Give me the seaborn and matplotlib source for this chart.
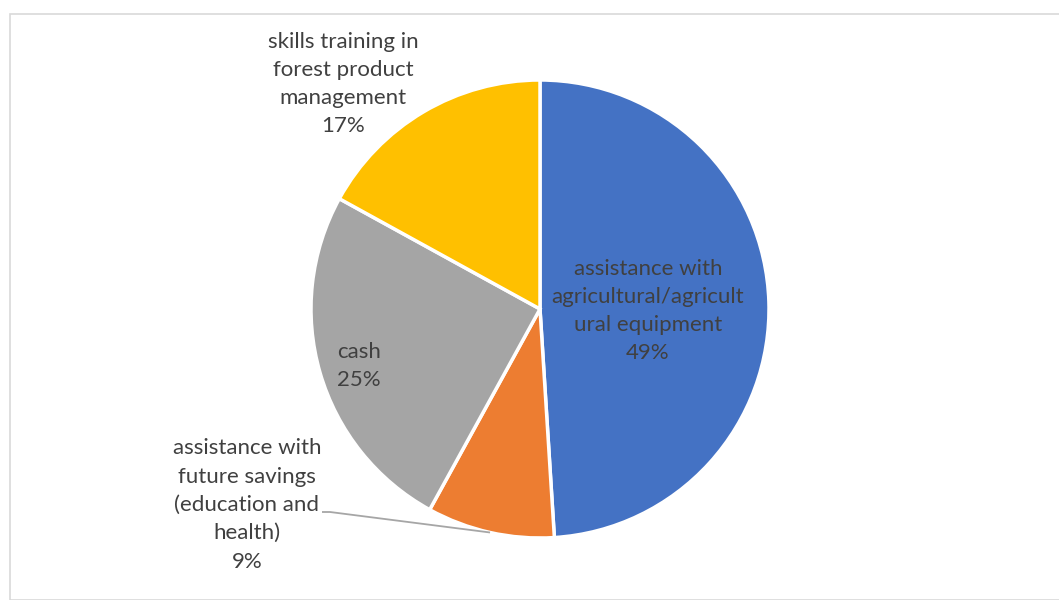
import numpy as np
import matplotlib
matplotlib.use("Agg")
import matplotlib.pyplot as plt
import seaborn as sns
from matplotlib.patches import Rectangle

sns.set_theme(style="white")
plt.rcParams['font.family'] = ['Lato', 'DejaVu Sans']

categories = [
    "assistance with\nagricultural/agricult\nural equipment",
    "assistance with\nfuture savings\n(education and\nhealth)",
    "cash",
    "skills training in\nforest product\nmanagement",
]
values = [49, 9, 25, 17]
colors = ["#4472C4", "#ED7D31", "#A5A5A5", "#FFC000"]

W, H = 1059, 600
fig = plt.figure(figsize=(W / 100, H / 100), dpi=100)
ax = fig.add_axes([0, 0, 1, 1])

# chart border
fig.patches.append(Rectangle((10 / W, 0), 1.2, (H - 14) / H, transform=fig.transFigure,
                             fill=False, edgecolor="#D9D9D9", linewidth=1.2))

cx, cy, R = 540, H - 309, 229
wedges, _ = ax.pie(values, colors=colors, startangle=90, counterclock=False,
                   center=(cx, cy), radius=R, frame=True,
                   wedgeprops=dict(edgecolor="white", linewidth=2.5))
ax.set_xlim(0, W)
ax.set_ylim(0, H)
ax.set_aspect('equal')
ax.axis('off')

total = sum(values)
txtc = "#404040"
fs = 16
labels = [f"{c}\n{round(v / total * 100)}%" for c, v in zip(categories, values)]

# label anchor positions (pixel layout)
pos = [(648, 311), (247, 505), (359, 366), (343, 84)]
for lab, (px, py) in zip(labels, pos):
    ax.text(px, H - py, lab, ha='center', va='center', fontsize=fs, color=txtc,
            linespacing=1.52)

# leader line for the small orange slice
w = wedges[1]
mid = np.deg2rad((w.theta1 + w.theta2) / 2)
ex, ey = cx + 1.0 * R * np.cos(mid), cy + 1.0 * R * np.sin(mid)
ax.plot([322, 330, ex], [H - 512, H - 512, ey], color="#A6A6A6", linewidth=1.3,
        solid_capstyle='butt')

fig.savefig("out.png", dpi=100, facecolor="white")
